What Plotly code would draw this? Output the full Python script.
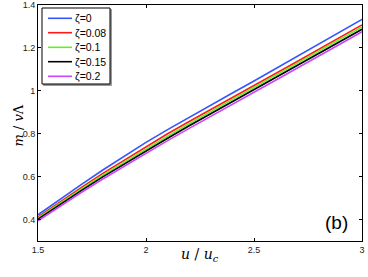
import plotly.graph_objects as go

u = [1.5, 1.6, 1.7, 1.8, 1.9, 2.0, 2.1, 2.2, 2.3, 2.4, 2.5, 2.6, 2.7, 2.8, 2.9, 3.0]
m_z0 = [0.422, 0.494, 0.563, 0.631, 0.696, 0.760, 0.819, 0.877, 0.934, 0.990, 1.046, 1.103, 1.160, 1.217, 1.275, 1.333]
m_z008 = [0.412, 0.482, 0.549, 0.615, 0.678, 0.741, 0.800, 0.857, 0.914, 0.969, 1.025, 1.081, 1.137, 1.193, 1.250, 1.307]
m_z01 = [0.407, 0.476, 0.542, 0.607, 0.669, 0.730, 0.789, 0.847, 0.903, 0.959, 1.015, 1.071, 1.127, 1.183, 1.241, 1.298]
m_z015 = [0.402, 0.470, 0.535, 0.599, 0.660, 0.720, 0.779, 0.837, 0.893, 0.949, 1.005, 1.061, 1.117, 1.173, 1.230, 1.287]
m_z02 = [0.394, 0.461, 0.526, 0.589, 0.650, 0.709, 0.768, 0.825, 0.882, 0.937, 0.993, 1.049, 1.105, 1.161, 1.218, 1.275]

names = ["ζ=0", "ζ=0.08", "ζ=0.1", "ζ=0.15", "ζ=0.2"]
series = [m_z0, m_z008, m_z01, m_z015, m_z02]
colors = ["#3355ff", "#ff1a1a", "#66ee22", "#000000", "#cc44ff"]

x_ticks = [1.5, 2, 2.5, 3]
x_labels = ["1.5", "2", "2.5", "3"]
y_ticks = [0.4, 0.6, 0.8, 1.0, 1.2, 1.4]
y_labels = ["0.4", "0.6", "0.8", "1", "1.2", "1.4"]

W, H = 368, 277
ML, MR, MT, MB = 38, 6, 5, 36
PW, PH = W - ML - MR, H - MT - MB


def px(xp):
    return (xp - ML) / PW


def py(yp):
    return (H - MB - yp) / PH


fig = go.Figure()
for nm, ys, c in zip(names, series, colors):
    fig.add_trace(go.Scatter(x=u, y=ys, mode="lines", name=nm,
                             line=dict(color=c, width=1.6), showlegend=False,
                             hoverinfo="skip"))

axis_common = dict(showline=True, mirror="ticks", linecolor="black", linewidth=1,
                   ticks="inside", ticklen=3, tickcolor="black", showgrid=False,
                   zeroline=False, automargin=False, ticklabeloverflow="allow",
                   tickfont=dict(family="Arial", size=9, color="#222"))

fig.update_layout(
    width=W, height=H,
    margin=dict(l=ML, r=MR, t=MT, b=MB),
    paper_bgcolor="white", plot_bgcolor="white",
    xaxis=dict(range=[1.5, 3], tickvals=x_ticks, ticktext=x_labels, **axis_common),
    yaxis=dict(range=[0.3, 1.4], tickvals=y_ticks, ticktext=y_labels, **axis_common),
    showlegend=False,
)

# axis titles
fig.add_annotation(x=px(200), y=py(266), xref="paper", yref="paper",
                   text="<i>u</i> / <i>u</i><sub><i>c</i></sub>", showarrow=False,
                   font=dict(family="DejaVu Serif", size=14, color="black"))
fig.add_annotation(x=px(9), y=py(126), xref="paper", yref="paper",
                   text="<i>m</i> / <i>v</i>Λ", showarrow=False, textangle=-90,
                   font=dict(family="DejaVu Serif", size=13, color="black"))

# panel label
fig.add_annotation(x=px(350), y=py(222), xref="paper", yref="paper", text="(b)",
                   showarrow=False, xanchor="right", yanchor="middle",
                   font=dict(family="Arial", size=19, color="black"))

# legend drawn manually for compact row spacing
lx0, lx1, ly0, ly1 = 42, 110, 8, 84
fig.add_shape(type="rect", xref="paper", yref="paper",
              x0=px(lx0 + 1.5), x1=px(lx1 + 1.5), y0=py(ly0 + 1.5), y1=py(ly1 + 1.5),
              line=dict(color="#999", width=1), fillcolor="#999", layer="above")
fig.add_shape(type="rect", xref="paper", yref="paper",
              x0=px(lx0), x1=px(lx1), y0=py(ly0), y1=py(ly1),
              line=dict(color="black", width=1), fillcolor="white", layer="above")
row_y = [18.3, 32.7, 47.3, 61.7, 76.3]
for nm, c, ry in zip(names, colors, row_y):
    fig.add_shape(type="line", xref="paper", yref="paper",
                  x0=px(48), x1=px(72), y0=py(ry), y1=py(ry),
                  line=dict(color=c, width=1.6), layer="above")
    fig.add_annotation(x=px(73), y=py(ry), xref="paper", yref="paper", text=nm,
                       showarrow=False, xanchor="left", yanchor="middle",
                       font=dict(family="Arial", size=10.5, color="black"))

fig.write_html("out.html", config={"displayModeBar": False},
               post_script="document.body.style.margin='0';document.body.style.overflow='hidden';")
